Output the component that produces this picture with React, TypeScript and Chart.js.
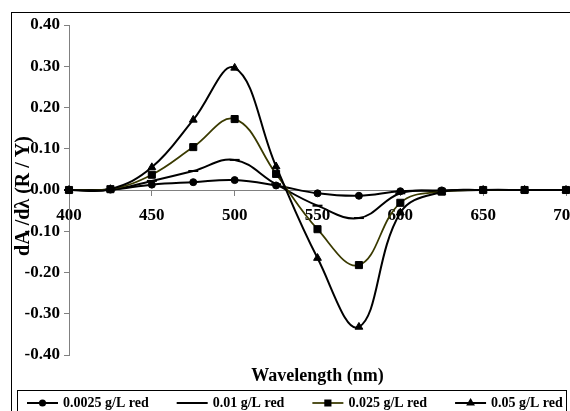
import React, { useEffect, useRef } from "react";
import { Chart, registerables } from "chart.js";
import { drawPoint } from "chart.js/helpers";

Chart.register(...registerables);

// ---- data ----
const wavelengths = [400, 425, 450, 475, 500, 525, 550, 575, 600, 625, 650, 675, 700];
const seriesLabels = ["0.0025 g/L red", "0.01 g/L red", "0.025 g/L red", "0.05 g/L red"];
const red00025 = [0, 0.001, 0.013, 0.019, 0.024, 0.011, -0.008, -0.014, -0.003, -0.001, 0, 0, 0];
const red0010 = [0, 0.001, 0.022, 0.046, 0.073, 0.014, -0.038, -0.068, -0.008, -0.002, 0, 0, 0];
const red0025 = [0, 0.002, 0.037, 0.104, 0.172, 0.039, -0.095, -0.182, -0.031, -0.004, 0, 0, 0];
const red0050 = [0, 0.002, 0.055, 0.17, 0.296, 0.057, -0.165, -0.332, -0.055, -0.005, 0, 0, 0];
const xTickValues = [400, 450, 500, 550, 600, 650, 700];
const yTickValues = [-0.4, -0.3, -0.2, -0.1, 0, 0.1, 0.2, 0.3, 0.4];
const xTitle = "Wavelength (nm)";
const yTitle = "dA /dλ (R / Y)";

// ---- styles ----
const FONT = '"Liberation Serif", "Times New Roman", serif';
const seriesValues = [red00025, red0010, red0025, red0050];
const lineColors = ["#000000", "#000000", "#3a3a00", "#000000"];
const lineWidths = [2, 2, 1.75, 2];
const pointStyles = ["circle", "line", "rect", "triangle"];
const pointRadii = [3.5, 5, 5, 4.5];
const drawOrder = [3, 2, 1, 0];

const framePlugin = {
  id: "frame",
  afterDraw(chart: any) {
    const ctx = chart.ctx as CanvasRenderingContext2D;
    ctx.save();
    // outer chart border
    ctx.strokeStyle = "#000";
    ctx.lineWidth = 1;
    ctx.strokeRect(11.5, 12.5, 1000, 1000);

    // y title
    ctx.save();
    ctx.fillStyle = "#000";
    ctx.font = `bold 20px ${FONT}`;
    ctx.translate(24, 196);
    ctx.rotate(-Math.PI / 2);
    ctx.textAlign = "center";
    ctx.textBaseline = "middle";
    ctx.fillText(yTitle, 0, 0);
    ctx.restore();

    // x title
    ctx.fillStyle = "#000";
    ctx.font = `bold 18px ${FONT}`;
    ctx.textAlign = "center";
    ctx.textBaseline = "middle";
    const area = chart.chartArea;
    ctx.fillText(xTitle, (area.left + area.right) / 2, 376);

    // legend box
    ctx.strokeStyle = "#000";
    ctx.lineWidth = 1;
    ctx.strokeRect(17.5, 390.5, 549, 30);

    // legend items
    ctx.font = `bold 14px ${FONT}`;
    ctx.textAlign = "left";
    ctx.textBaseline = "middle";
    const ly = 403;
    let x = 27;
    chart.data.datasets.forEach((ds: any, i: number) => {
      ctx.strokeStyle = ds.borderColor;
      ctx.lineWidth = ds.borderWidth;
      ctx.beginPath();
      ctx.moveTo(x, ly);
      ctx.lineTo(x + 31, ly);
      ctx.stroke();
      ctx.fillStyle = "#000";
      ctx.strokeStyle = "#000";
      ctx.lineWidth = 1.5;
      drawPoint(
        ctx,
        { pointStyle: ds.pointStyle, radius: ds.pointRadius * 0.8, rotation: 0, borderWidth: ds.pointStyle === "line" ? 2 : 1 },
        x + 15.5,
        ly
      );
      ctx.fillStyle = "#000";
      ctx.fillText(ds.label, x + 36, ly + 0.5);
      const w = ctx.measureText(ds.label).width;
      x += 36 + w + 28;
    });
    ctx.restore();
  },
};

export default function App() {
  const ref = useRef<HTMLCanvasElement | null>(null);

  useEffect(() => {
    if (!ref.current) return;
    const datasets = seriesLabels.map((label, i) => ({
      label,
      data: wavelengths.map((w, j) => ({ x: w, y: seriesValues[i][j] })),
      borderColor: lineColors[i],
      borderWidth: lineWidths[i],
      backgroundColor: "#000",
      pointStyle: pointStyles[i],
      pointRadius: pointRadii[i],
      pointBackgroundColor: "#000",
      pointBorderColor: "#000",
      pointBorderWidth: pointStyles[i] === "line" ? 2 : 1,
      tension: 0.4,
      fill: false,
      clip: 12,
      order: drawOrder[i],
    }));

    const chart = new Chart(ref.current, {
      type: "line",
      data: { datasets },
      plugins: [framePlugin],
      options: {
        animation: false,
        responsive: false,
        devicePixelRatio: 1,
        layout: { padding: { left: 0, top: 25, right: 54, bottom: 85 } },
        plugins: {
          legend: { display: false },
          tooltip: { enabled: false },
          title: { display: false },
        },
        scales: {
          x: {
            type: "linear",
            position: { y: 0 } as any,
            min: 400,
            max: 700,
            afterBuildTicks: (s: any) => {
              s.ticks = xTickValues.map((v) => ({ value: v }));
            },
            ticks: {
              color: "#000",
              font: { family: FONT, size: 17, weight: "bold" },
              padding: 10,
              maxRotation: 0,
              autoSkip: false,
              callback: (v: any) => String(v),
            },
            grid: { drawOnChartArea: false, drawTicks: true, tickLength: 5, color: "#808080" },
            border: { color: "#808080", width: 1 },
          },
          y: {
            type: "linear",
            position: "left",
            min: -0.4,
            max: 0.4,
            afterBuildTicks: (s: any) => {
              s.ticks = yTickValues.map((v) => ({ value: v }));
            },
            afterFit: (s: any) => {
              s.width = 69;
            },
            ticks: {
              color: "#000",
              font: { family: FONT, size: 17, weight: "bold" },
              padding: 4,
              autoSkip: false,
              callback: (v: any) => Number(v).toFixed(2),
            },
            grid: { drawOnChartArea: false, drawTicks: true, tickLength: 5, color: "#808080" },
            border: { color: "#808080", width: 1 },
          },
        },
      },
    } as any);
    return () => chart.destroy();
  }, []);

  return (
    <div
      style={{
        position: "fixed",
        left: 0,
        top: 0,
        width: 570,
        height: 411,
        overflow: "hidden",
        background: "#fff",
      }}
    >
      <canvas ref={ref} width={620} height={440} style={{ display: "block" }} />
    </div>
  );
}
